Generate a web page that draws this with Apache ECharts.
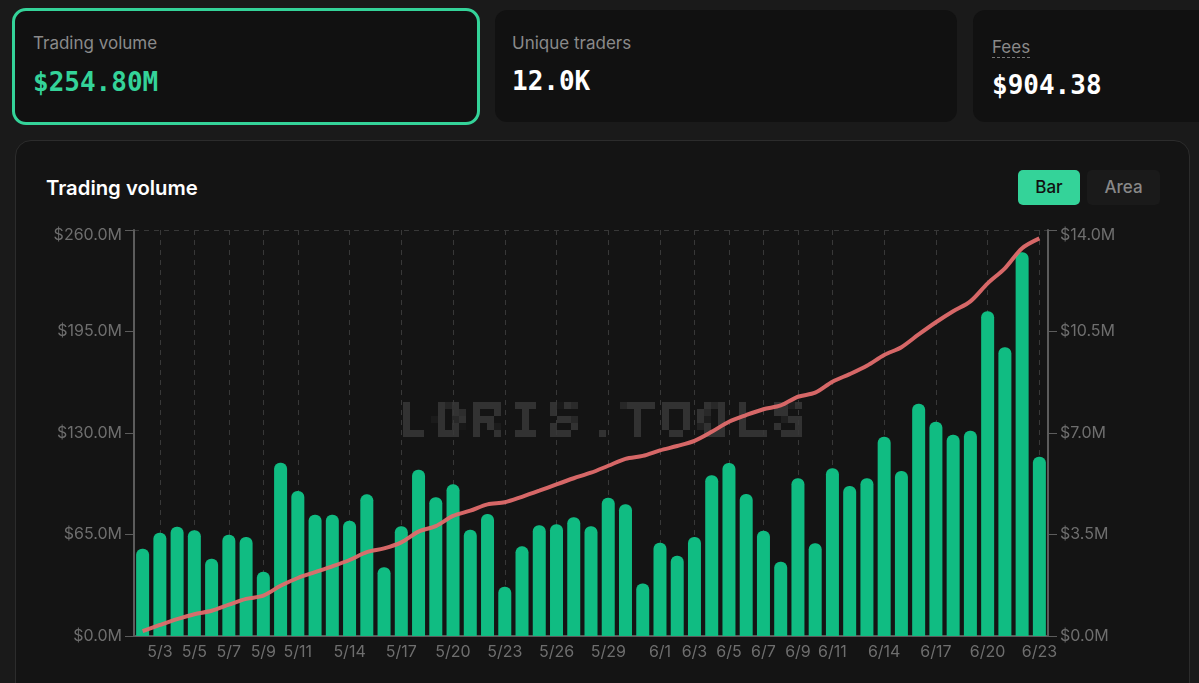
<!DOCTYPE html>
<html>
<head>
<meta charset="utf-8">
<title>Trading volume</title>
<script src="https://cdn.jsdelivr.net/npm/echarts@6/dist/echarts.min.js"></script>
<style>
  html, body { margin: 0; padding: 0; width: 1199px; height: 683px; overflow: hidden; background: #1a1a1a; font-family: Inter, sans-serif; }
  .card { position: absolute; background: #111; border-radius: 12px; box-sizing: border-box; }
  .card .lbl { position: absolute; font-size: 17px; line-height: 20px; color: #8a8a8a; white-space: nowrap; }
  .card .val { position: absolute; font-family: "DejaVu Sans Mono", monospace; font-weight: 700; font-size: 26px; line-height: 30px; color: #fff; white-space: nowrap; }
  #c1 { left: 12px; top: 8px; width: 468px; height: 117px; border: 3px solid #34d399; border-radius: 14px; }
  #c2 { left: 495px; top: 10px; width: 462px; height: 112px; }
  #c3 { left: 973px; top: 10px; width: 260px; height: 112px; }
  #panel { position: absolute; left: 15px; top: 140px; width: 1175px; height: 600px; background: #141414; border: 1px solid #2c2c2c; border-radius: 16px; box-sizing: border-box; }
  #title { position: absolute; left: 46px; top: 176px; font-size: 20.3px; line-height: 24px; font-weight: 600; color: #fff; }
  .btn { position: absolute; top: 170px; height: 35px; line-height: 35px; text-align: center; font-size: 17px; border-radius: 5px; }
  #bar { left: 1018px; width: 62px; background: #34d399; color: #111; font-weight: 500; }
  #area { left: 1087px; width: 73px; background: #1a1a1a; color: #888; font-weight: 500; }
  #mark { position: absolute; left: 389px; top: 388px; padding: 6px; font-family: "Liberation Mono", monospace; font-weight: 700; font-size: 54px; line-height: 56px; letter-spacing: 5.4px; color: #323232; white-space: nowrap; filter: url(#pixelate); }
  #chart { position: absolute; left: 0; top: 0; width: 1199px; height: 683px; }
</style>
</head>
<body>
<svg width="0" height="0" style="position:absolute">
  <filter id="pixelate" x="0" y="0" width="100%" height="100%" color-interpolation-filters="sRGB">
    <feFlood x="3" y="3" width="1" height="1"/>
    <feComposite width="7" height="7"/>
    <feTile result="dots"/>
    <feComposite in="SourceGraphic" in2="dots" operator="in"/>
    <feMorphology operator="dilate" radius="3"/>
  </filter>
</svg>
<div class="card" id="c1">
  <div class="lbl" style="left:18px;top:22px">Trading volume</div>
  <div class="val" style="left:18px;top:56px;color:#34d399">$254.80M</div>
</div>
<div class="card" id="c2">
  <div class="lbl" style="left:17px;top:23px">Unique traders</div>
  <div class="val" style="left:17px;top:56px">12.0K</div>
</div>
<div class="card" id="c3">
  <div class="lbl" style="left:19px;top:28px;border-bottom:1px dashed #777;line-height:19px">Fees</div>
  <div class="val" style="left:19px;top:60px">$904.38</div>
</div>
<div id="panel"></div>
<div id="title">Trading volume</div>
<div class="btn" id="bar">Bar</div>
<div class="btn" id="area">Area</div>
<div id="mark">LORIS.TOOLS</div>
<div id="chart"></div>
<script>
var dates = ['5/2','5/3','5/4','5/5','5/6','5/7','5/8','5/9','5/10','5/11','5/12','5/13','5/14','5/15','5/16','5/17','5/18','5/19','5/20','5/21','5/22','5/23','5/24','5/25','5/26','5/27','5/28','5/29','5/30','5/31',
  '6/1','6/2','6/3','6/4','6/5','6/6','6/7','6/8','6/9','6/10','6/11','6/12','6/13','6/14','6/15','6/16','6/17','6/18','6/19','6/20','6/21','6/22','6/23'];
var tickDates = ['5/3','5/5','5/7','5/9','5/11','5/14','5/17','5/20','5/23','5/26','5/29','6/1','6/3','6/5','6/7','6/9','6/11','6/14','6/17','6/20','6/23'];
// daily volume, $M
var volume = [55.9,66.2,70.0,67.7,49.5,64.9,63.4,41.2,111.0,92.9,77.7,77.7,73.8,90.7,44.0,70.3,106.5,88.8,97.1,68.1,78.1,31.6,57.4,70.9,71.5,76.0,70.3,88.6,84.3,33.7,
  59.7,51.4,63.4,102.9,110.8,90.9,67.4,47.6,101.0,59.4,107.4,96.1,101.0,127.6,105.7,148.8,137.2,128.9,131.5,207.9,184.9,245.7,114.8];
// cumulative, $M
var cumulative = [0.17,0.38,0.58,0.75,0.87,1.08,1.28,1.39,1.73,2.0,2.20,2.40,2.62,2.89,3.02,3.23,3.60,3.79,4.14,4.32,4.54,4.61,4.80,5.01,5.23,5.44,5.63,5.87,6.11,6.21,
  6.40,6.55,6.73,7.04,7.39,7.62,7.82,7.95,8.25,8.39,8.77,9.03,9.32,9.69,9.96,10.40,10.82,11.20,11.54,12.16,12.68,13.37,13.71];

var axisColor = '#5c5c5c', labelColor = '#6e6e6e', gridColor = '#383838';
function showTick(i, v) { return tickDates.indexOf(v) >= 0; }
function money(v) { return '$' + v.toFixed(1) + 'M'; }
var yLabel = { color: labelColor, fontSize: 16, fontFamily: 'Inter', margin: 12, lineHeight: 6, padding: [2, 0, 0, 0], formatter: money, verticalAlignMaxLabel: 'top' };

var myChart = echarts.init(document.getElementById('chart'), null, { renderer: 'canvas' });
myChart.setOption({
  backgroundColor: 'transparent',
  animation: false,
  grid: { left: 134, right: 151, top: 230, bottom: 47 },
  xAxis: {
    type: 'category',
    data: dates,
    axisLine: { lineStyle: { color: axisColor, width: 2 } },
    axisTick: { alignWithLabel: true, interval: showTick, length: 8, lineStyle: { color: axisColor, width: 1 } },
    axisLabel: { interval: showTick, color: labelColor, fontSize: 16, fontFamily: 'Inter', margin: 8, hideOverlap: false },
    splitLine: { show: true, alignWithLabel: true, interval: showTick, lineStyle: { color: gridColor, type: [5, 5], width: 1 } }
  },
  yAxis: [
    {
      type: 'value', min: 0, max: 260, interval: 65,
      axisLine: { show: true, lineStyle: { color: axisColor, width: 2 } },
      axisTick: { show: true, length: 9, lineStyle: { color: axisColor } },
      axisLabel: yLabel,
      // only the top line is drawn in the reference
      splitLine: { show: true, lineStyle: { color: ['transparent','transparent','transparent','transparent',gridColor], type: [5, 5], width: 1 } }
    },
    {
      type: 'value', min: 0, max: 14, interval: 3.5, position: 'right',
      axisLine: { show: true, lineStyle: { color: axisColor, width: 2 } },
      axisTick: { show: true, length: 9, lineStyle: { color: axisColor } },
      axisLabel: yLabel,
      splitLine: { show: false }
    }
  ],
  series: [
    {
      name: 'Volume', type: 'bar', data: volume, barWidth: 13,
      itemStyle: { color: '#10bc82', borderRadius: [6, 6, 0, 0] }
    },
    {
      name: 'Cumulative', type: 'line', yAxisIndex: 1, data: cumulative, smooth: 0.3, showSymbol: false,
      lineStyle: { color: '#e06c6c', width: 4, opacity: 0.95 }
    }
  ]
});
</script>
</body>
</html>
